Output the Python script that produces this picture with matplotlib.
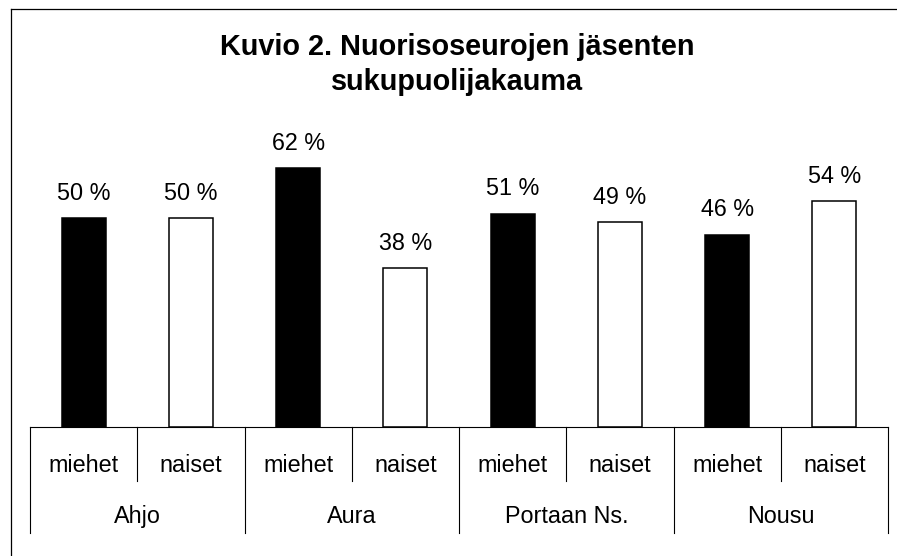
import matplotlib.pyplot as plt
from matplotlib.lines import Line2D
import matplotlib.transforms as mtransforms

plt.rcParams['font.family'] = ['Liberation Sans', 'DejaVu Sans']

# data
groups = ['Ahjo', 'Aura', 'Portaan Ns.', 'Nousu']
genders = ['miehet', 'naiset']
values = [50, 50, 62, 38, 51, 49, 46, 54]
bar_colors = ['black', 'white']

W, H = 897, 556
fig = plt.figure(figsize=(W / 100, H / 100), dpi=100)

# axes placed in pixel coordinates (left 30, right 888, bottom 427, top 9)
ax = fig.add_axes([30 / W, (H - 427) / H, 858 / W, 418 / H])
ax.set_xlim(-0.5, 7.5)
ax.set_ylim(0, 100)
for s in ['top', 'right', 'left']:
    ax.spines[s].set_visible(False)
ax.spines['bottom'].set_linewidth(0.8)
ax.set_xticks([])
ax.set_yticks([])

xs = list(range(len(values)))
colors = [bar_colors[i % 2] for i in xs]
bars = ax.bar(xs, values, width=0.41, color=colors, edgecolor='black', linewidth=1.1)

for x, v in zip(xs, values):
    ax.annotate(f'{v} %', (x, v), xytext=(0, 13.2), textcoords='offset points',
                ha='center', va='baseline', fontsize=16.8)

# multi-level category axis
trans = mtransforms.blended_transform_factory(ax.transData, ax.transAxes)
px = 1 / 418
for i in range(len(values) + 1):
    xb = i - 0.5
    y_end = -106 * px if i % 2 == 0 else -54 * px
    ax.add_line(Line2D([xb, xb], [0, y_end], transform=trans, color='black',
                       linewidth=0.8, clip_on=False))
for i, x in enumerate(xs):
    ax.text(x, -45 * px, genders[i % 2], transform=trans, ha='center',
            va='baseline', fontsize=16.8)
for g, name in enumerate(groups):
    ax.text(2 * g + 0.5, -96 * px, name, transform=trans, ha='center',
            va='baseline', fontsize=16.8)

# title
fig.text(457 / W, (H - 55) / H, 'Kuvio 2. Nuorisoseurojen jäsenten',
         ha='center', va='baseline', fontsize=20.8, fontweight='bold')
fig.text(457 / W, (H - 90) / H, 'sukupuolijakauma',
         ha='center', va='baseline', fontsize=20.8, fontweight='bold')

# chart area border (only left and top fall inside the image)
fig.add_artist(Line2D([11 / W, 11 / W], [0, (H - 9) / H], color='black', linewidth=0.9))
fig.add_artist(Line2D([11 / W, 1], [(H - 9) / H, (H - 9) / H], color='black', linewidth=0.9))

fig.savefig('out.png', dpi=100)
